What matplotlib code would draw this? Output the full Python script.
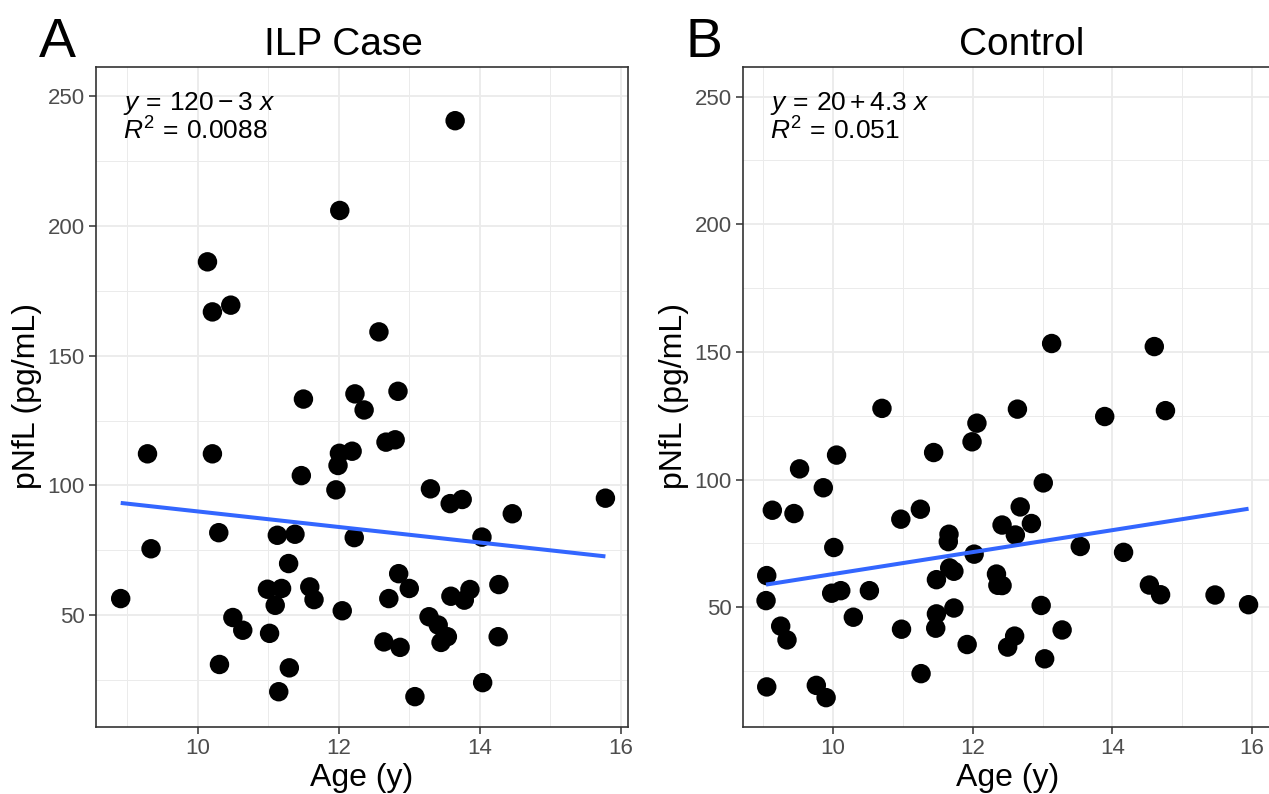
import numpy as np
import matplotlib.pyplot as plt
from matplotlib.ticker import MultipleLocator

# ==========================================
# 0. 字体设置 (Helvetica 风格)
# ==========================================
plt.rcParams['font.family'] = ['Liberation Sans', 'DejaVu Sans']
plt.rcParams['mathtext.fontset'] = 'custom'
plt.rcParams['mathtext.rm'] = 'Liberation Sans'
plt.rcParams['mathtext.it'] = 'Liberation Sans:italic'

# ==========================================
# 1. 数据
# ==========================================
case_age = [8.91, 9.29, 9.34, 10.14, 10.21, 10.47, 10.21, 10.30, 10.31, 10.50,
            10.64, 11.02, 10.99, 11.19, 11.10, 11.13, 11.38, 11.29, 11.30, 11.15,
            11.47, 11.50, 11.59, 11.65, 11.96, 11.99, 12.01, 12.015, 12.05, 12.19,
            12.22, 12.23, 12.36, 12.57, 12.64, 12.67, 12.71, 12.80, 12.84, 12.85,
            12.87, 13.00, 13.08, 13.28, 13.30, 13.41, 13.45, 13.54, 13.58, 13.59,
            13.65, 13.75, 13.78, 13.86, 14.03, 14.04, 14.26, 14.27, 14.46, 15.78]
case_nfl = [56.4, 112.2, 75.6, 186.2, 166.9, 169.5, 112.2, 81.8, 31.0, 49.1,
            44.2, 43.0, 60.0, 60.3, 53.8, 80.8, 81.2, 69.9, 29.7, 20.5,
            103.8, 133.3, 60.9, 56.0, 98.3, 107.7, 112.4, 206.0, 51.7, 113.2,
            79.9, 135.3, 129.1, 159.2, 39.7, 116.7, 56.4, 117.6, 136.3, 66.0,
            37.6, 60.3, 18.6, 49.4, 98.7, 46.2, 39.5, 41.7, 93.0, 57.3,
            240.6, 94.6, 55.8, 59.9, 80.1, 24.0, 41.7, 61.8, 89.1, 95.1]

ctrl_age = [9.05, 9.04, 9.05, 9.13, 9.25, 9.34, 9.44, 9.52, 9.76, 9.86,
            9.90, 9.98, 10.01, 10.05, 10.11, 10.29, 10.52, 10.70, 10.97, 10.98,
            11.25, 11.26, 11.44, 11.47, 11.48, 11.48, 11.65, 11.66, 11.67, 11.73,
            11.73, 11.92, 11.99, 12.02, 12.06, 12.34, 12.36, 12.42, 12.42, 12.50,
            12.60, 12.61, 12.64, 12.68, 12.84, 12.98, 13.01, 13.03, 13.13, 13.28,
            13.54, 13.89, 14.16, 14.53, 14.60, 14.69, 14.76, 15.47, 15.95]
ctrl_nfl = [62.4, 52.6, 18.8, 88.0, 42.6, 37.2, 86.7, 104.2, 19.4, 96.8,
            14.6, 55.5, 73.4, 109.6, 56.5, 46.1, 56.5, 127.9, 84.5, 41.4,
            88.4, 24.0, 110.6, 41.8, 47.4, 60.8, 75.7, 78.6, 65.4, 64.1,
            49.7, 35.4, 114.8, 70.8, 122.1, 63.0, 58.6, 58.5, 82.2, 34.4,
            38.7, 78.3, 127.6, 89.3, 82.8, 50.7, 98.7, 29.8, 153.3, 41.1,
            73.8, 124.7, 71.5, 58.7, 152.1, 54.9, 127.0, 54.8, 51.0]

# 回归方程 (截距, 斜率) 与 R^2, 取自图中标注
case_fit = [120, -3]
ctrl_fit = [20, 4.3]
case_eq = [r'$y\,=\,120-3\ x$', r'$R^2\,=\,0.0088$']
ctrl_eq = [r'$y\,=\,20+4.3\ x$', r'$R^2\,=\,0.051$']

panel_titles = ['ILP Case', 'Control']
panel_tags = ['A', 'B']

# ==========================================
# 2. 画布
# ==========================================
W, H = 1269, 794
fig = plt.figure(figsize=(W / 100, H / 100), dpi=100)


def px(x, y):
    return x / W, 1 - y / H


def draw_panel(rect, age, nfl, fit, eq, xlim, ylim):
    ax = fig.add_axes(rect)
    ax.scatter(age, nfl, s=196, color='black', edgecolors='none', zorder=3)
    xs = np.array([min(age), max(age)])
    ax.plot(xs, fit[0] + fit[1] * xs, color='#3366FF', lw=2.9, zorder=4,
            solid_capstyle='butt')
    ax.set_xlim(*xlim)
    ax.set_ylim(*ylim)
    ax.xaxis.set_major_locator(MultipleLocator(2))
    ax.xaxis.set_minor_locator(MultipleLocator(1))
    ax.yaxis.set_major_locator(MultipleLocator(50))
    ax.yaxis.set_minor_locator(MultipleLocator(25))
    ax.grid(True, which='major', color='#EBEBEB', lw=1.3, zorder=0)
    ax.grid(True, which='minor', color='#EBEBEB', lw=0.7, zorder=0)
    ax.set_axisbelow(True)
    for s in ax.spines.values():
        s.set_color('#333333')
        s.set_linewidth(1.2)
    ax.tick_params(which='major', length=5, width=1.1, color='#333333',
                   labelsize=16, labelcolor='#4D4D4D', pad=3)
    ax.tick_params(which='minor', length=0)
    # 回归方程标注
    ax.text(0.05, 0.935, eq[0], transform=ax.transAxes, fontsize=19, va='baseline')
    ax.text(0.05, 0.89, eq[1], transform=ax.transAxes, fontsize=19, va='baseline')
    return ax


axL = draw_panel([96 / W, 67 / H, 532 / W, 660 / H], case_age, case_nfl,
                 case_fit, case_eq, (8.56, 16.1), (6.9, 261.3))
axR = draw_panel([743 / W, 67 / H, 530 / W, 660 / H], ctrl_age, ctrl_nfl,
                 ctrl_fit, ctrl_eq, (8.71, 16.3), (3.1, 261.6))

# ==========================================
# 3. 标题、面板字母与轴标签
# ==========================================
fig.text(*px(343, 55), panel_titles[0], fontsize=28, ha='center', va='baseline')
fig.text(*px(1022, 55), panel_titles[1], fontsize=28, ha='center', va='baseline')
fig.text(*px(39, 57), panel_tags[0], fontsize=40, ha='left', va='baseline')
fig.text(*px(686, 57), panel_tags[1], fontsize=40, ha='left', va='baseline')

for cx, lx in [(362, 27), (1008, 674)]:
    fig.text(*px(cx, 786), 'Age (y)', fontsize=23, ha='center', va='baseline')
    fig.text(*px(lx, 396), 'pNfL (pg/mL)', fontsize=23, ha='center',
             va='center', rotation=90)

fig.savefig('out.png', dpi=100)
